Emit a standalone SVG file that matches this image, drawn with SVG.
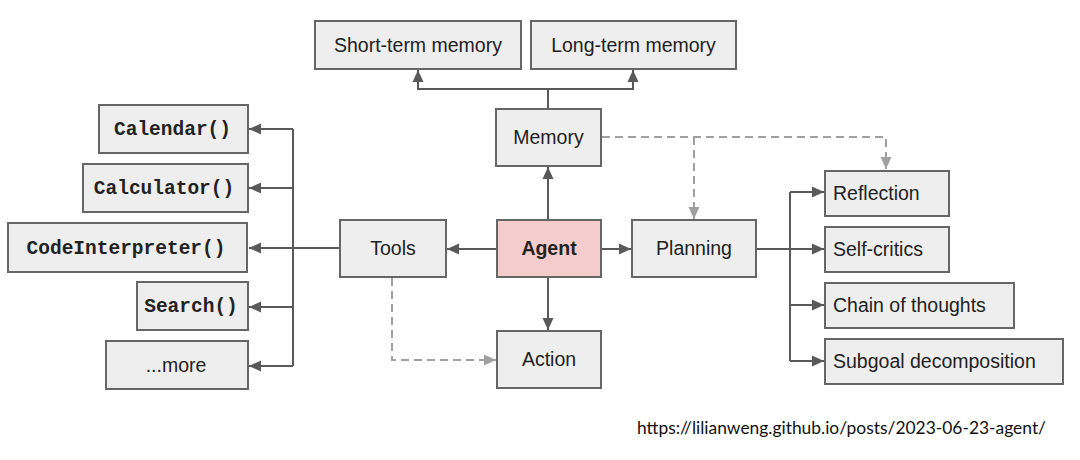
<svg xmlns="http://www.w3.org/2000/svg" width="1080" height="460" viewBox="0 0 1080 460">
<defs>
<style>
.box{fill:#eeeeee;stroke:#666666;stroke-width:2}
.agent{fill:#f4cccc;stroke:#666666;stroke-width:2}
.t{font-family:"Liberation Sans",Arial,sans-serif;font-size:19.5px;fill:#222}
.c{text-anchor:middle}
.b{font-weight:bold}
.m{font-family:"Liberation Mono","Courier New",monospace;font-size:19.5px;font-weight:bold;fill:#222;text-anchor:middle}
.ln{fill:none;stroke:#595959;stroke-width:2}
.dl{fill:none;stroke:#a0a0a0;stroke-width:2;stroke-dasharray:8 5}
.url{font-family:Lato,"Open Sans","Liberation Sans",sans-serif;font-size:17px;fill:#111}
</style>
<marker id="ah" viewBox="0 0 12 12" refX="12" refY="6" markerWidth="12" markerHeight="12" markerUnits="userSpaceOnUse" orient="auto">
<path d="M0,0.5 L12,6 L0,11.5 z" fill="#595959"/>
</marker>
<marker id="dh" viewBox="0 0 12 12" refX="12" refY="6" markerWidth="12" markerHeight="12" markerUnits="userSpaceOnUse" orient="auto">
<path d="M0,0.5 L12,6 L0,11.5 z" fill="#a0a0a0"/>
</marker>
</defs>
<rect width="1080" height="460" fill="#ffffff"/>

<g id="connectors">
<path class="ln" d="M548,109 V89 H418 V70" marker-end="url(#ah)"/>
<path class="ln" d="M548,89 H633 V70" marker-end="url(#ah)"/>
<path class="ln" d="M548,220 V167" marker-end="url(#ah)"/>
<path class="ln" d="M497,249 H447" marker-end="url(#ah)"/>
<path class="ln" d="M601,249 H631" marker-end="url(#ah)"/>
<path class="ln" d="M548,277 V330" marker-end="url(#ah)"/>
<path class="ln" d="M340,248 H249" marker-end="url(#ah)"/>
<path class="ln" d="M293,129 V366"/>
<path class="ln" d="M293,129 H249" marker-end="url(#ah)"/>
<path class="ln" d="M293,188 H249" marker-end="url(#ah)"/>
<path class="ln" d="M293,307 H249" marker-end="url(#ah)"/>
<path class="ln" d="M293,366 H249" marker-end="url(#ah)"/>
<path class="ln" d="M756,249 H824" marker-end="url(#ah)"/>
<path class="ln" d="M790,192 V361"/>
<path class="ln" d="M790,192 H824" marker-end="url(#ah)"/>
<path class="ln" d="M790,305 H824" marker-end="url(#ah)"/>
<path class="ln" d="M790,361 H824" marker-end="url(#ah)"/>
<path class="dl" d="M602,137 H886 V169" marker-end="url(#dh)"/>
<path class="dl" d="M694,137 V219" marker-end="url(#dh)"/>
<path class="dl" d="M392,278 V360 H496" marker-end="url(#dh)"/>
</g>

<g id="short-term-memory"><rect class="box" x="315" y="21" width="206" height="48"/><text class="t c" x="418" y="52">Short-term memory</text></g>
<g id="long-term-memory"><rect class="box" x="531" y="21" width="205" height="48"/><text class="t c" x="633.5" y="52">Long-term memory</text></g>
<g id="memory"><rect class="box" x="496" y="109" width="105" height="57"/><text class="t c" x="548.5" y="144">Memory</text></g>
<g id="agent"><rect class="agent" x="497" y="220" width="104" height="57"/><text class="t c b" x="549" y="255">Agent</text></g>
<g id="tools"><rect class="box" x="340" y="220" width="106" height="57"/><text class="t c" x="393" y="255">Tools</text></g>
<g id="action"><rect class="box" x="497" y="331" width="104" height="57"/><text class="t c" x="549" y="366">Action</text></g>
<g id="planning"><rect class="box" x="632" y="220" width="124" height="57"/><text class="t c" x="694" y="255">Planning</text></g>

<g id="calendar"><rect class="box" x="99" y="105" width="149" height="48"/><text class="m" x="172.5" y="135">Calendar()</text></g>
<g id="calculator"><rect class="box" x="83" y="164" width="165" height="48"/><text class="m" x="164" y="194">Calculator()</text></g>
<g id="code-interpreter"><rect class="box" x="8" y="223" width="239" height="49"/><text class="m" x="126" y="254">CodeInterpreter()</text></g>
<g id="search"><rect class="box" x="137" y="282" width="111" height="48"/><text class="m" x="191" y="312">Search()</text></g>
<g id="more"><rect class="box" x="106" y="341" width="142" height="48"/><text class="t c" x="176" y="372">...more</text></g>

<g id="reflection"><rect class="box" x="825" y="171" width="124" height="45"/><text class="t" x="833" y="200">Reflection</text></g>
<g id="self-critics"><rect class="box" x="825" y="227" width="124" height="45"/><text class="t" x="833" y="256">Self-critics</text></g>
<g id="chain-of-thoughts"><rect class="box" x="825" y="283" width="189" height="45"/><text class="t" x="833" y="312">Chain of thoughts</text></g>
<g id="subgoal-decomposition"><rect class="box" x="825" y="339" width="238" height="45"/><text class="t" x="833" y="368">Subgoal decomposition</text></g>

<text class="url" x="637" y="434" textLength="409" lengthAdjust="spacingAndGlyphs">https://lilianweng.github.io/posts/2023-06-23-agent/</text>
</svg>
